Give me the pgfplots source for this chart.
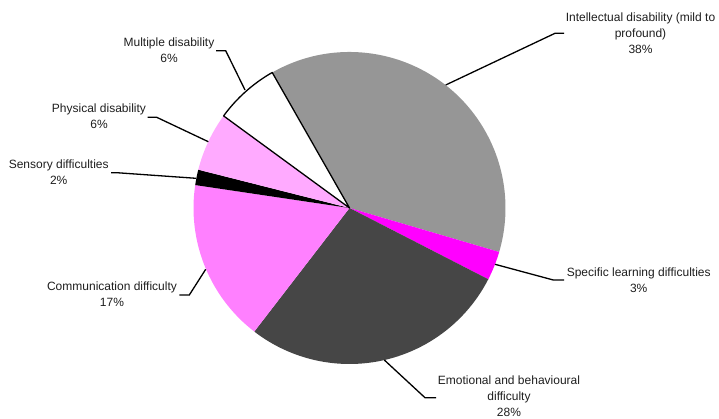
\documentclass[border=0pt]{standalone}
\usepackage{fontspec}
\setmainfont{Liberation Sans}
\usepackage{pgfplots}
\usepackage{pgfplotstable}
\pgfplotsset{compat=1.18}

\definecolor{cIntel}{HTML}{969696}
\definecolor{cSpec}{HTML}{FF00FF}
\definecolor{cEmo}{HTML}{464646}
\definecolor{cComm}{HTML}{FF80FF}
\definecolor{cSens}{HTML}{000000}
\definecolor{cPhys}{HTML}{FFAAFF}
\definecolor{cMult}{HTML}{FFFFFF}
\definecolor{txt}{HTML}{1E1E1E}

% share of pupils (%), clockwise from the top-left edge of the grey slice
\pgfplotstableread[col sep=comma]{
name,value,col,edge
Intellectual,37.8,cIntel,none
Specific,3.0,cSpec,none
Emotional,27.9,cEmo,none
Communication,16.9,cComm,none
Sensory,1.6,cSens,none
Physical,6.1,cPhys,none
Multiple,6.7,cMult,black
}\piedata

\tikzset{
  lbl/.style={align=center, text=txt, font=\fontsize{12}{16}\selectfont, inner sep=0pt},
  leader/.style={line width=1.3pt, black},
}

\begin{document}
\begin{tikzpicture}
\begin{axis}[
    width=719pt, height=419pt, scale only axis,
    xmin=0, xmax=719, ymin=0, ymax=419, y dir=reverse,
    hide axis, clip=false,
]
\path (axis cs:0,0) rectangle (axis cs:719,419);

% slices
\xdef\cur{119.7}
\pgfplotsinvokeforeach{0,...,6}{
  \pgfplotstablegetelem{#1}{value}\of\piedata
  \pgfmathsetmacro\nxt{\cur-3.6*\pgfplotsretval}
  \pgfplotstablegetelem{#1}{col}\of\piedata
  \let\fc\pgfplotsretval
  \pgfplotstablegetelem{#1}{edge}\of\piedata
  \let\ec\pgfplotsretval
  \edef\temp{\noexpand\filldraw[fill=\fc, draw=\ec, line width=1.3pt, line join=round]
    (axis cs:349.5,208) -- ++(\cur:156pt) arc[start angle=\cur, end angle=\nxt, radius=156pt] -- cycle;}
  \temp
  \xdef\cur{\nxt}
}

% leader lines
\draw[leader] (axis cs:445.7,85) -- (axis cs:555,33.3) -- (axis cs:564,33.3);
\draw[leader] (axis cs:495,264.3) -- (axis cs:553.3,280) -- (axis cs:564,280);
\draw[leader] (axis cs:384.3,360) -- (axis cs:425,397.7) -- (axis cs:436,397.7);
\draw[leader] (axis cs:205.7,269.3) -- (axis cs:189.3,295) -- (axis cs:179.3,295);
\draw[leader] (axis cs:196,178.3) -- (axis cs:116.7,172.7) -- (axis cs:111,172.7);
\draw[leader] (axis cs:208.3,141.7) -- (axis cs:156.7,117.3) -- (axis cs:147.7,117.3);
\draw[leader] (axis cs:245,90) -- (axis cs:225.7,50.7) -- (axis cs:216,50.7);

% labels
\node[lbl] at (axis cs:640.5,33.5) {Intellectual disability (mild to\\profound)\\38\%};
\node[lbl] at (axis cs:638.7,280) {Specific learning difficulties\\3\%};
\node[lbl] at (axis cs:509,396.5) {Emotional and behavioural\\difficulty\\28\%};
\node[lbl] at (axis cs:112,294) {Communication difficulty\\17\%};
\node[lbl] at (axis cs:58.7,172) {Sensory difficulties\\2\%};
\node[lbl] at (axis cs:99,116.5) {Physical disability\\6\%};
\node[lbl] at (axis cs:169,50) {Multiple disability\\6\%};
\end{axis}
\end{tikzpicture}
\end{document}
